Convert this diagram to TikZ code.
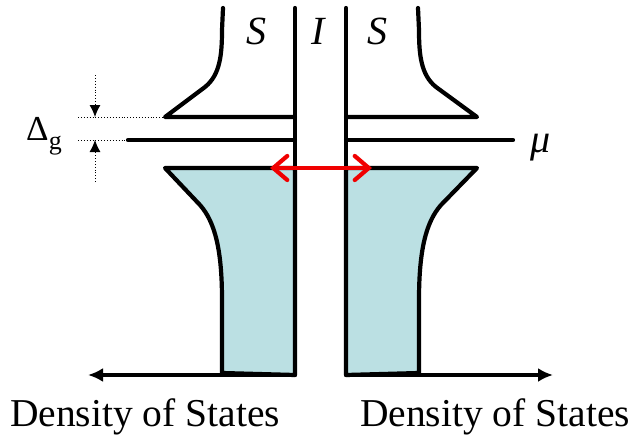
\documentclass[tikz,border=0pt]{standalone}
\usepackage{fontspec}
\setmainfont{Liberation Serif}
\usetikzlibrary{arrows.meta,calc}
\definecolor{dosblue}{RGB}{187,224,227}
\definecolor{tunnelred}{RGB}{240,0,0}

\tikzset{
  band/.style={line width=4.2pt, line join=round, line cap=round},
  guide/.style={dotted, line width=0.9pt},
  lbl/.style={inner sep=0pt, anchor=base, font=\fontsize{40}{44}\selectfont\itshape},
  doslbl/.style={inner sep=0pt, anchor=base, font=\fontsize{39.5}{42}\selectfont}
}

\begin{document}
\begin{tikzpicture}[x=1pt, y=-1pt]
            \useasboundingbox (0,0) rectangle (633,439);

            % --- Lower (filled) bands ---
            \filldraw[band, fill=dosblue] (295,168) -- (165,168) -- (200,205)
                .. controls (215,222) and (222,250) .. (222,300) -- (222,373) -- (295,375) -- cycle;
            \filldraw[band, fill=dosblue] (346,168) -- (477,168) -- (441,205)
                .. controls (426,222) and (419,250) .. (419,300) -- (419,373) -- (346,375) -- cycle;

            % --- Upper bands ---
            \draw[band] (295,117) -- (165,117) -- (205,87)
                .. controls (220,75) and (222,55) .. (222,30) -- (223,8);
            \draw[band] (346,117) -- (477,117) -- (436,87)
                .. controls (421,75) and (419,55) .. (419,30) -- (418,8);

            % --- Chemical potential ---
            \draw[band] (128,140) -- (295,140);
            \draw[band] (346,140) -- (513,140);
            \node[lbl] (mu) at (541,152) {μ};

            % --- Barrier walls ---
            \coordinate (wallLtop) at (295,8);
            \coordinate (wallLbot) at (295,375);
            \coordinate (wallRtop) at (346,8);
            \coordinate (wallRbot) at (346,375);
            \draw[band] (wallLtop) -- (wallLbot);
            \draw[band] (wallRtop) -- (wallRbot);
            \node[lbl] (supL) at (256,45) {S};
            \node[lbl] (ins) at (318,45) {I};
            \node[lbl] (supR) at (377,45) {S};

            % --- Density of states axes ---
            \coordinate (axL) at (88,375);
            \coordinate (axR) at (553,375);
            \draw[band, line cap=butt, -{Latex[length=15pt,width=14pt]}] (wallLbot) -- (axL);
            \draw[band, line cap=butt, -{Latex[length=15pt,width=14pt]}] (wallRbot) -- (axR);
            \node[doslbl] (dosL) at (145,426) {Density of States};
            \node[doslbl] (dosR) at (495,426) {Density of States};

            % --- Tunnelling arrow ---
            \coordinate (tunL) at (270,168);
            \coordinate (tunR) at (372,168);
            \draw[tunnelred, line width=4.2pt,
                  {Straight Barb[length=14pt,width=24pt,line cap=round]}-{Straight Barb[length=14pt,width=24pt,line cap=round]}]
                  (tunL) -- (tunR);

            % --- Gap marker ---
            \draw[guide] (78,117) -- (165,117);
            \draw[guide] (78,140) -- (128,140);
            \draw[guide, -{Latex[length=12pt,width=11pt]}] (95,75) -- (95,117);
            \draw[guide, -{Latex[length=12pt,width=11pt]}] (95,182) -- (95,140);
            \node[inner sep=0pt, anchor=base, font=\fontsize{35}{38}\selectfont] (gap) at (44,140)
                {Δ\raisebox{-0.28em}{\fontsize{26}{28}\selectfont g}};
\end{tikzpicture}
\end{document}
